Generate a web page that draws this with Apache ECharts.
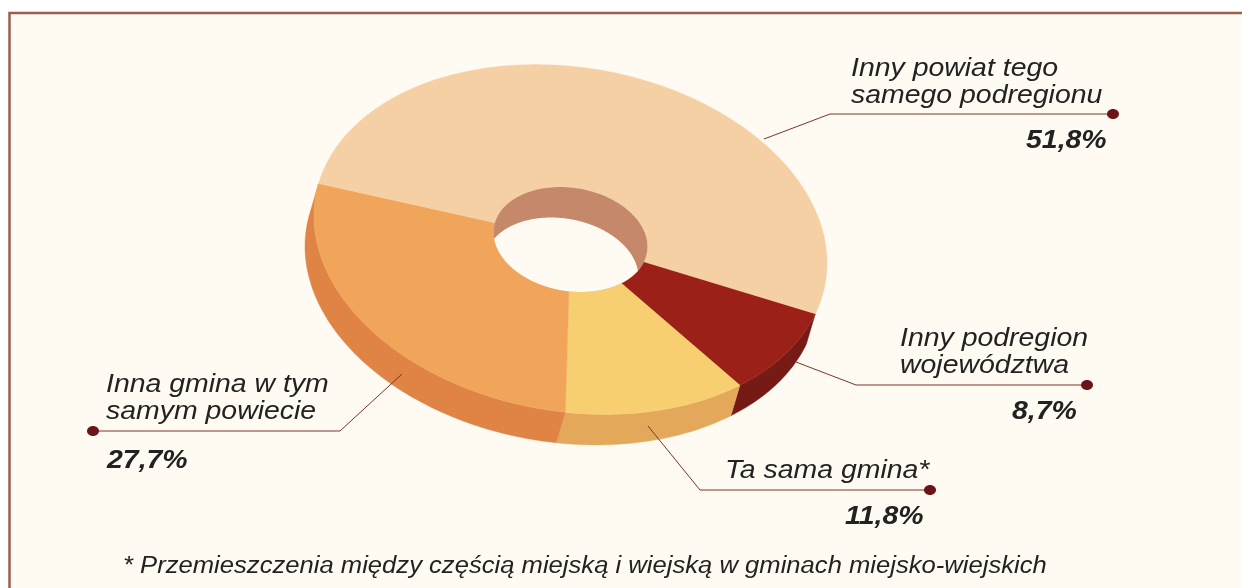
<!DOCTYPE html>
<html><head><meta charset="utf-8">
<style>html,body{margin:0;padding:0;background:#fff}#c{width:1242px;height:588px}</style>
<script src="https://cdn.jsdelivr.net/npm/echarts@6/dist/echarts.min.js"></script>
</head><body><div id="c"></div>
<script>
// DATA (clockwise from the right-hand boundary)
const categories = [['Inny podregion','województwa'],['Ta sama gmina*'],['Inna gmina w tym','samym powiecie'],['Inny powiat tego','samego podregionu']];
const values = [8.7, 11.8, 27.7, 51.8];
const valueLabels = ['8,7%','11,8%','27,7%','51,8%'];
const footnote = '* Przemieszczenia między częścią miejską i wiejską w gminach miejsko-wiejskich';

// STYLE
const topColors = ['#9B2118','#F7CF70','#F1A55B','#F5D0A5'];
const sideColors = ['#761A16','#E4A85A','#DF8444',null];
const wallColor = '#C5886A', bg = '#FFFBF2', ink = '#222222', lineColor = '#7E3327', dotColor = '#6B1518';

// LAYOUT: tilted disc
const cx = 570.5, cy = 239.5, ra = 258.5, rb = 172, tilt = 9.5*Math.PI/180, innerRatio = 0.3;
const ex = -9, ey = 30.5, startDeg = 11;
const textFont = 'italic 25.5px "Liberation Sans"', valFont = 'italic bold 25.5px "Liberation Sans"', stretch = 1.115;
const labelLayout = [
 {lines:[[900,339],[900,366]], val:[1012,412], leader:[[796,362],[856,385],[1087,385]]},
 {lines:[[725,471]], val:[845,517], leader:[[648,426],[700,490],[930,490]]},
 {lines:[[106,385],[106,412]], val:[107,461], leader:[[402,374],[340,431],[93,431]]},
 {lines:[[851,68.5],[851,95.5]], val:[1026,141], leader:[[764,139],[830,114],[1113,114]]}
];

const total = values.reduce((a,b)=>a+b,0);
function pt(deg, k, dx, dy){
  const t = deg*Math.PI/180, u = ra*k*Math.cos(t), v = rb*k*Math.sin(t);
  return [cx + u*Math.cos(tilt) - v*Math.sin(tilt) + (dx||0), cy + u*Math.sin(tilt) + v*Math.cos(tilt) + (dy||0)];
}
function range(i){
  let s = startDeg; for(let j=0;j<i;j++) s += values[j]/total*360;
  return [s, s + values[i]/total*360];
}
function arc(a,b,k,dx,dy){
  const n = Math.max(2,Math.ceil(Math.abs(b-a))), out=[];
  for(let i=0;i<=n;i++) out.push(pt(a+(b-a)*i/n,k,dx,dy));
  return out;
}
function holeOpening(){
  // intersection of the top inner ellipse and the same ellipse shifted by the depth
  const out=[], mx=cx+ex/2, my=cy+ey/2, r0=ra*innerRatio, r1=rb*innerRatio, c=Math.cos(tilt), s=Math.sin(tilt);
  function dist(ang, ox, oy){
    const d=[Math.cos(ang),Math.sin(ang)], o=[mx-ox,my-oy];
    const q=v=>[(v[0]*c+v[1]*s)/r0,(-v[0]*s+v[1]*c)/r1];
    const D=q(d),O=q(o);
    const A=D[0]*D[0]+D[1]*D[1],B=2*(D[0]*O[0]+D[1]*O[1]),C=O[0]*O[0]+O[1]*O[1]-1;
    return (-B+Math.sqrt(B*B-4*A*C))/(2*A);
  }
  for(let i=0;i<720;i++){
    const a=i/720*2*Math.PI, r=Math.min(dist(a,cx,cy),dist(a,cx+ex,cy+ey));
    out.push([mx+r*Math.cos(a),my+r*Math.sin(a)]);
  }
  return out;
}
function renderSide(p){
  const i=p.dataIndex; if(!sideColors[i]) return {type:'group',children:[]};
  const [a,b]=range(i);
  const pts=arc(a,b,1).concat(arc(b,a,1,ex,ey));
  return {type:'polygon',shape:{points:pts},style:{fill:sideColors[i],stroke:sideColors[i],lineWidth:.4}};
}
function renderTop(p){
  const i=p.dataIndex, [a,b]=range(i);
  const pts=arc(a,b,1).concat(arc(b,a,innerRatio));
  return {type:'polygon',shape:{points:pts},style:{fill:topColors[i],stroke:topColors[i],lineWidth:.4}};
}
function renderHole(){
  return {type:'group',children:[
    {type:'polygon',shape:{points:arc(0,360,innerRatio)},style:{fill:wallColor}},
    {type:'polygon',shape:{points:holeOpening()},style:{fill:bg}}
  ]};
}
function txt(text,pos,font){
  return {type:'text',x:pos[0],y:pos[1],scaleX:stretch,style:{text,x:0,y:0,font,fill:ink,textAlign:'left',textVerticalAlign:'middle'}};
}
function renderLabel(p){
  const i=p.dataIndex, L=labelLayout[i], last=L.leader[2], kids=[];
  kids.push({type:'polyline',shape:{points:L.leader},style:{fill:null,stroke:lineColor,lineWidth:1}});
  kids.push({type:'ellipse',shape:{cx:last[0],cy:last[1],rx:6,ry:5},style:{fill:dotColor}});
  categories[i].forEach((t,j)=>kids.push(txt(t,L.lines[j],textFont)));
  kids.push(txt(valueLabels[i],L.val,valFont));
  return {type:'group',children:kids};
}
const chart = echarts.init(document.getElementById('c'));
chart.setOption({
  animation:false, backgroundColor:'#ffffff',
  graphic:[{type:'rect',z:0,shape:{x:9.5,y:13,width:1300,height:650},style:{fill:bg,stroke:'#9B5F50',lineWidth:2.5},silent:true},
           {type:'text',z:10,x:123,y:566,scaleX:1.09,style:{text:footnote,font:'italic 23.5px "Liberation Sans"',fill:ink,textVerticalAlign:'middle'},silent:true}],
  series:[
    {type:'custom',name:'side',coordinateSystem:'none',silent:true,z:2,data:values,renderItem:renderSide},
    {type:'custom',name:'top',coordinateSystem:'none',silent:true,z:3,data:values,renderItem:renderTop},
    {type:'custom',name:'hole',coordinateSystem:'none',silent:true,z:4,data:[total],renderItem:renderHole},
    {type:'custom',name:'labels',coordinateSystem:'none',silent:true,z:5,data:values,renderItem:renderLabel}
  ]
});
</script></body></html>
